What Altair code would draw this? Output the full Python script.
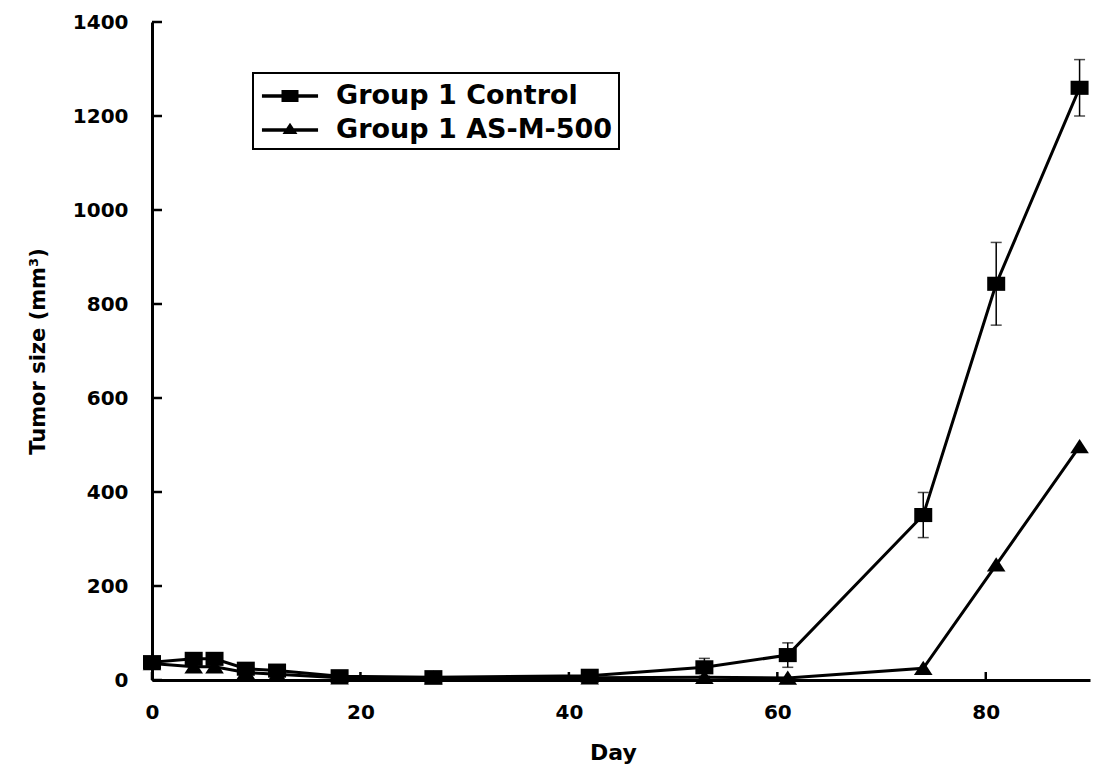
import altair as alt
import pandas as pd

# Measurement days and tumour volumes (mm^3)
days = [0, 4, 6, 9, 12, 18, 27, 42, 53, 61, 74, 81, 89]
control_mean = [38, 45, 45, 24, 20, 8, 6, 9, 27, 53, 351, 843, 1260]
control_err = [0, 0, 0, 0, 0, 0, 0, 0, 19, 26, 48, 88, 60]
asm_mean = [35, 28, 28, 16, 12, 5, 4, 5, 6, 4, 25, 245, 497]

series_names = ["Group 1 Control", "Group 1 AS-M-500"]
y_ticks = [0, 200, 400, 600, 800, 1000, 1200, 1400]
x_ticks = [0, 20, 40, 60, 80]

FONT = "DejaVu Sans"

control = pd.DataFrame({"day": days, "size": control_mean, "err": control_err})
control["series"] = series_names[0]
control["lo"] = control["size"] - control["err"]
control["hi"] = control["size"] + control["err"]
asm = pd.DataFrame({"day": days, "size": asm_mean})
asm["series"] = series_names[1]
both = pd.concat([control, asm], ignore_index=True)
errs = control[control["err"] > 0]

x_scale = alt.Scale(domain=[0, 90], nice=False, zero=False)
y_scale = alt.Scale(domain=[0, 1400], nice=False)

x_axis = alt.Axis(
    values=x_ticks, format="d", ticks=False, tickSize=0, grid=False,
    domainColor="black", domainWidth=3, labelFlush=False,
    labelFont=FONT, labelFontSize=20, labelFontWeight="bold",
    labelColor="black", labelPadding=22,
    title="Day", titleFont=FONT, titleFontSize=22, titleFontWeight="bold",
    titleColor="black", titleY=72, titleX=461, titleBaseline="middle",
)
y_axis = alt.Axis(
    values=y_ticks, format="d", ticks=False, tickSize=0, grid=False,
    domainColor="black", domainWidth=3,
    labelFont=FONT, labelFontSize=20, labelFontWeight="bold",
    labelColor="black", labelPadding=24,
    title="Tumor size (mm³)", titleFont=FONT, titleFontSize=21,
    titleFontWeight="bold", titleColor="black",
    titleX=-114, titleY=329, titleAlign="center", titleBaseline="middle",
)

X = alt.X("day:Q", scale=x_scale, axis=x_axis)
Y = alt.Y("size:Q", scale=y_scale, axis=y_axis)

# Marker outlines (slightly wider than tall)
square_path = "M -0.6 -0.47 L 0.6 -0.47 L 0.6 0.47 L -0.6 0.47 Z"
triangle_path = "M 0 -0.5 L 0.62 0.45 L -0.62 0.45 Z"

# Legend glyphs: line segment with marker
leg_square = ("M -1.65 -0.11 L 1.65 -0.11 L 1.65 0.11 L -1.65 0.11 Z "
              "M -0.5 -0.36 L 0.5 -0.36 L 0.5 0.36 L -0.5 0.36 Z")
leg_triangle = ("M -1.65 -0.11 L 1.65 -0.11 L 1.65 0.11 L -1.65 0.11 Z "
                "M 0 -0.42 L 0.44 0.24 L -0.44 0.24 Z")

# Inward tick marks
y_tick_df = pd.DataFrame({"v": y_ticks})
x_tick_df = pd.DataFrame({"v": x_ticks})
y_tick_rules = alt.Chart(y_tick_df).mark_rule(color="black", strokeWidth=2.5).encode(
    y=alt.Y("v:Q", scale=y_scale, axis=y_axis), x=alt.value(0), x2=alt.value(10)
)
x_tick_rules = alt.Chart(x_tick_df).mark_rule(color="black", strokeWidth=2.5).encode(
    x=alt.X("v:Q", scale=x_scale, axis=x_axis), y=alt.value(658), y2=alt.value(650)
)

# Error bars on the control group
err_rule = alt.Chart(errs).mark_rule(color="black", strokeWidth=1.5).encode(
    x=X, y=alt.Y("lo:Q", scale=y_scale, axis=y_axis), y2="hi:Q"
)
err_cap_hi = alt.Chart(errs).mark_tick(
    color="black", orient="horizontal", size=11, thickness=1.5
).encode(x=X, y=alt.Y("hi:Q", scale=y_scale, axis=y_axis))
err_cap_lo = alt.Chart(errs).mark_tick(
    color="black", orient="horizontal", size=11, thickness=1.5
).encode(x=X, y=alt.Y("lo:Q", scale=y_scale, axis=y_axis))

control_line = alt.Chart(control).mark_line(color="black", strokeWidth=3).encode(x=X, y=Y)
asm_line = alt.Chart(asm).mark_line(color="black", strokeWidth=3).encode(x=X, y=Y)

control_pts = alt.Chart(control).mark_point(
    filled=True, color="black", opacity=1, size=900, shape=square_path, strokeWidth=0
).encode(x=X, y=Y)
asm_pts = alt.Chart(asm).mark_point(
    filled=True, color="black", opacity=1, size=900, shape=triangle_path, strokeWidth=0
).encode(x=X, y=Y)

# Legend driver layer (no rows drawn)
legend_layer = alt.Chart(both).transform_filter("false").mark_point(
    filled=True, color="black"
).encode(
    x=X, y=Y,
    shape=alt.Shape(
        "series:N",
        scale=alt.Scale(domain=series_names, range=[leg_square, leg_triangle]),
        legend=alt.Legend(
            title=None, orient="none", legendX=101, legendY=51,
            symbolSize=1156, symbolOffset=14, labelOffset=29,
            symbolFillColor="black", symbolStrokeWidth=0, symbolOpacity=1,
            labelFont=FONT, labelFontSize=27, labelFontWeight="bold",
            labelColor="black", labelLimit=400, rowPadding=4, padding=6,
            strokeColor="black",
        ),
    ),
)

chart = alt.layer(
    y_tick_rules, x_tick_rules,
    err_rule, err_cap_hi, err_cap_lo,
    asm_line, control_line, asm_pts, control_pts,
    legend_layer,
).properties(
    width=938, height=658,
    padding={"left": 152, "top": 22, "right": 6, "bottom": 96},
    autosize=alt.AutoSizeParams(type="none"),
    background="white",
).configure_view(strokeOpacity=0).configure_legend(strokeWidth=2)

chart.save("out.html", embed_options={"renderer": "svg", "actions": False})
